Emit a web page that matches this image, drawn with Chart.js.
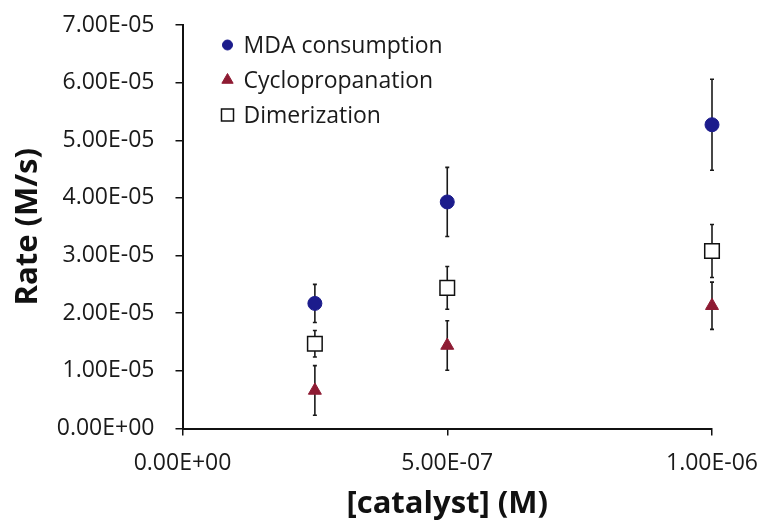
<!DOCTYPE html>
<html>
<head>
<meta charset="utf-8">
<script src="https://cdn.jsdelivr.net/npm/chart.js@4.4.1/dist/chart.umd.min.js"></script>
<style>
  html, body { margin: 0; padding: 0; background: #fff; }
  #wrap { width: 767px; height: 523px; }
</style>
</head>
<body>
<div id="wrap"><canvas id="chart" width="767" height="523"></canvas></div>
<script>
// values
const catalyst = [2.5e-7, 5.0e-7, 1.0e-6];

const mdaRate = [2.17e-5, 3.93e-5, 5.27e-5];
const mdaErr = [0.33e-5, 0.60e-5, 0.79e-5];

const cycloRate = [0.66e-5, 1.44e-5, 2.13e-5];
const cycloErr = [0.43e-5, 0.43e-5, 0.41e-5];

const dimerRate = [1.47e-5, 2.44e-5, 3.08e-5];
const dimerErr = [0.23e-5, 0.37e-5, 0.46e-5];

const seriesNames = ["MDA consumption", "Cyclopropanation", "Dimerization"];

const FONT = "'Open Sans', 'Liberation Sans', sans-serif";

function sci(v) {
    const s = Number(v).toExponential(2);
    const parts = s.split("e");
    const n = parseInt(parts[1], 10);
    return parts[0] + "E" + (n < 0 ? "-" : "+") + String(Math.abs(n)).padStart(2, "0");
}

function pts(ys) {
    return catalyst.map((x, i) => ({ x, y: ys[i] }));
}

// vertical error bars, drawn under the markers
const errorBars = {
    id: "errorBars",
    beforeDatasetsDraw(chart) {
        const { ctx, scales: { x, y } } = chart;
        ctx.save();
        ctx.strokeStyle = "#1a1a1a";
        ctx.lineWidth = 1.6;
        chart.data.datasets.forEach((ds) => {
            ds.data.forEach((p, i) => {
                const e = ds.errors[i];
                const px = x.getPixelForValue(p.x);
                const top = y.getPixelForValue(p.y + e);
                const bot = y.getPixelForValue(p.y - e);
                ctx.beginPath();
                ctx.moveTo(px, top);
                ctx.lineTo(px, bot);
                ctx.moveTo(px - 2, top);
                ctx.lineTo(px + 2, top);
                ctx.moveTo(px - 2, bot);
                ctx.lineTo(px + 2, bot);
                ctx.stroke();
            });
        });
        ctx.restore();
    },
};

// legend in the upper-left of the plot
const plotLegend = {
    id: "plotLegend",
    afterDraw(chart) {
        const { ctx, chartArea } = chart;
        const legendSizes = [5, 6.5, 8.5];
        ctx.save();
        chart.data.datasets.forEach((ds, i) => {
            const cx = chartArea.left + 45;
            const cy = chartArea.top + 20 + i * 35;
            ctx.fillStyle = ds.backgroundColor;
            ctx.strokeStyle = ds.borderColor;
            ctx.lineWidth = ds.borderWidth;
            Chart.helpers.drawPoint(ctx, {
                pointStyle: ds.pointStyle,
                radius: legendSizes[i],
                rotation: 0,
                borderWidth: ds.borderWidth,
            }, cx, cy);
            ctx.fillStyle = "#1a1a1a";
            ctx.font = "23px " + FONT;
            ctx.textBaseline = "middle";
            ctx.textAlign = "left";
            ctx.fillText(ds.label, cx + 16, cy + 1);
        });
        ctx.restore();
    },
};

new Chart(document.getElementById("chart"), {
    type: "scatter",
    data: {
        datasets: [
            {
                label: seriesNames[0],
                data: pts(mdaRate),
                errors: mdaErr,
                pointStyle: "circle",
                pointRadius: 7,
                backgroundColor: "#1c1c8c",
                borderColor: "#1c1c8c",
                borderWidth: 1,
                clip: false,
            },
            {
                label: seriesNames[1],
                data: pts(cycloRate),
                errors: cycloErr,
                pointStyle: "triangle",
                pointRadius: 7.5,
                backgroundColor: "#8e1b33",
                borderColor: "#8e1b33",
                borderWidth: 1,
                clip: false,
            },
            {
                label: seriesNames[2],
                data: pts(dimerRate),
                errors: dimerErr,
                pointStyle: "rect",
                pointRadius: 10.3,
                backgroundColor: "#ffffff",
                borderColor: "#111111",
                borderWidth: 1.5,
                clip: false,
            },
        ],
    },
    options: {
        responsive: false,
        animation: false,
        layout: { autoPadding: false, padding: { top: 25, right: 55, bottom: 0, left: 0 } },
        plugins: {
            legend: { display: false },
            tooltip: { enabled: false },
        },
        scales: {
            x: {
                type: "linear",
                min: 0,
                max: 1e-6,
                afterFit: (s) => {
                    s.height = 94.5;
                    s.paddingLeft = 0;
                    s.paddingRight = 0;
                },
                ticks: {
                    stepSize: 5e-7,
                    color: "#1a1a1a",
                    font: { family: FONT, size: 23 },
                    padding: 14,
                    maxRotation: 0,
                    callback: (v) => sci(v),
                },
                grid: { drawOnChartArea: false, drawTicks: true, tickLength: 7, color: "#111", lineWidth: 1.5 },
                border: { display: true, color: "#111", width: 2 },
                title: {
                    display: true,
                    text: "[catalyst] (M)",
                    color: "#111",
                    font: { family: FONT, size: 31, weight: "bold" },
                    padding: { top: 0, bottom: 0 },
                },
            },
            y: {
                type: "linear",
                min: 0,
                max: 7e-5,
                afterFit: (s) => {
                    s.width = 182.5;
                    s.paddingTop = 0;
                    s.paddingBottom = 0;
                },
                ticks: {
                    stepSize: 1e-5,
                    color: "#1a1a1a",
                    font: { family: FONT, size: 23 },
                    padding: 21,
                    callback: (v) => sci(v),
                },
                grid: { drawOnChartArea: false, drawTicks: true, tickLength: 7, color: "#111", lineWidth: 1.5 },
                border: { display: true, color: "#111", width: 2 },
                title: {
                    display: true,
                    text: "Rate (M/s)",
                    color: "#111",
                    font: { family: FONT, size: 31, weight: "bold" },
                    padding: { top: 10, bottom: 0 },
                },
            },
        },
    },
    plugins: [errorBars, plotLegend],
});
</script>
</body>
</html>
